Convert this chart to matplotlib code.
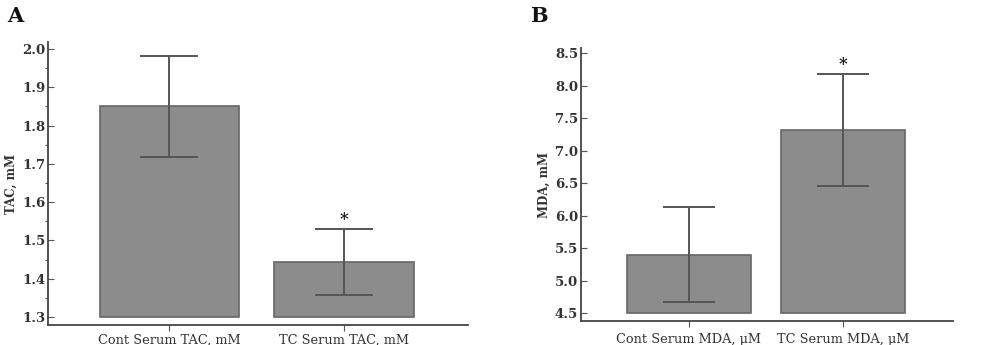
import matplotlib
matplotlib.use("Agg")
import matplotlib.pyplot as plt
from matplotlib.ticker import MultipleLocator

categories_a = ["Cont Serum TAC, mM", "TC Serum TAC, mM"]
means_a = [1.85, 1.444]
err_hi_a = [1.982, 1.530]
err_lo_a = [1.718, 1.357]
sig_a = ["", "*"]

categories_b = ["Cont Serum MDA, \u00b5M", "TC Serum MDA, \u00b5M"]
means_b = [5.39, 7.32]
err_hi_b = [6.13, 8.18]
err_lo_b = [4.67, 6.45]
sig_b = ["", "*"]

plt.rcParams['font.family'] = ['DejaVu Serif']

fig = plt.figure(figsize=(10, 3.45), dpi=100)

BAR = '#8c8c8c'
EDGE = '#666666'
ERR = '#555555'

def panel(rect, cats, means, hi, lo, sig, base, ylim, xlim, yticks_major, yminor, ylabel, letter, letter_x, capsize, xpad):
    ax = fig.add_axes(rect)
    x = list(range(len(cats)))
    heights = [m - base for m in means]
    ax.bar(x, heights, bottom=base, width=0.8, color=BAR, edgecolor=EDGE, linewidth=1.2, zorder=2)
    yerr = [[m - l for m, l in zip(means, lo)], [h - m for m, h in zip(means, hi)]]
    ax.errorbar(x, means, yerr=yerr, fmt='none', ecolor=ERR, elinewidth=1.4, capsize=capsize, capthick=1.4, zorder=3)
    for xi, h, s in zip(x, hi, sig):
        if s:
            ax.text(xi, h + (ylim[1] - ylim[0]) * 0.003, s, ha='center', va='bottom', fontsize=12, fontweight='bold', color='#222')
    ax.set_ylim(*ylim)
    ax.set_xlim(*xlim)
    ax.set_xticks(x)
    ax.set_xticklabels(cats, fontsize=9.3, color='#333')
    ax.set_yticks(yticks_major)
    ax.set_yticklabels([f"{v:.1f}" for v in yticks_major], fontsize=9.5, fontweight='bold', color='#333')
    if yminor:
        ax.yaxis.set_minor_locator(MultipleLocator(yminor))
        ax.tick_params(axis='y', which='minor', direction='out', length=2, width=0.8, color='#555')
    ax.tick_params(axis='y', which='major', direction='in', length=4, width=0.8, color='#555', pad=2)
    ax.tick_params(axis='x', which='major', direction='out', length=4, width=0.8, color='#555', pad=xpad)
    for sp in ['top', 'right']:
        ax.spines[sp].set_visible(False)
    for sp in ['left', 'bottom']:
        ax.spines[sp].set_color('#444')
        ax.spines[sp].set_linewidth(1.3)
    ax.set_ylabel(ylabel, fontsize=8.5, fontweight='bold', color='#333', labelpad=3)
    fig.text(letter_x, 0.955, letter, fontsize=15, fontweight='bold', ha='left', va='center', color='#111')
    return ax

panel([0.048, 0.058, 0.42, 0.82], categories_a, means_a, err_hi_a, err_lo_a, sig_a,
      1.3, (1.279, 2.018), (-0.696, 1.711), [1.3, 1.4, 1.5, 1.6, 1.7, 1.8, 1.9, 2.0], 0.05,
      "TAC, mM", "A", 0.007, 21, 2)
panel([0.581, 0.0696, 0.372, 0.791], categories_b, means_b, err_hi_b, err_lo_b, sig_b,
      4.5, (4.377, 8.577), (-0.701, 1.714), [4.5, 5.0, 5.5, 6.0, 6.5, 7.0, 7.5, 8.0, 8.5], None,
      "MDA, mM", "B", 0.530, 19, 5)

fig.savefig("out.png", dpi=100)
